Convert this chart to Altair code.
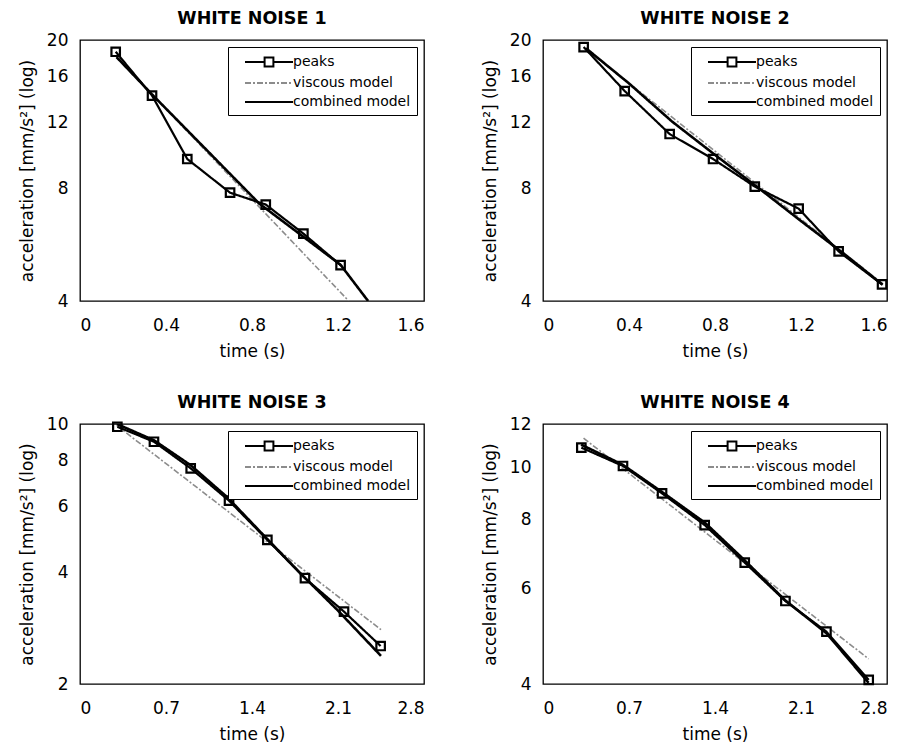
import altair as alt
import pandas as pd

SERIES = ["peaks", "viscous model", "combined model"]

# ---- WHITE NOISE 1 ----
wn1_peaks_t = [0.166, 0.335, 0.499, 0.698, 0.864, 1.039, 1.212]
wn1_peaks_a = [18.6, 14.2, 9.6, 7.8, 7.25, 6.06, 4.99]
wn1_visc_t = [0.17, 1.25]
wn1_visc_a = [18.0, 4.0]
wn1_comb_t = [0.17, 0.335, 0.833, 1.212, 1.34]
wn1_comb_a = [18.0, 14.3, 7.3, 5.0, 4.0]

# ---- WHITE NOISE 2 ----
wn2_peaks_t = [0.189, 0.380, 0.589, 0.791, 0.985, 1.189, 1.375, 1.577]
wn2_peaks_a = [19.15, 14.6, 11.2, 9.6, 8.1, 7.07, 5.43, 4.43]
wn2_visc_t = [0.20, 1.58]
wn2_visc_a = [18.9, 4.45]
wn2_comb_t = [0.20, 0.40, 0.60, 0.80, 1.00, 1.20, 1.40, 1.58]
wn2_comb_a = [19.0, 15.3, 12.1, 9.85, 8.05, 6.55, 5.35, 4.42]

# ---- WHITE NOISE 3 ----
wn3_peaks_t = [0.304, 0.602, 0.901, 1.213, 1.525, 1.831, 2.149, 2.447]
wn3_peaks_a = [9.83, 8.96, 7.60, 6.22, 4.88, 3.85, 3.13, 2.53]
wn3_visc_t = [0.30, 2.45]
wn3_visc_a = [9.9, 2.8]
wn3_comb_t = [0.30, 0.60, 0.90, 1.20, 1.50, 1.80, 2.10, 2.45]
wn3_comb_a = [10.0, 9.05, 7.75, 6.35, 5.0, 3.95, 3.15, 2.38]

# ---- WHITE NOISE 4 ----
wn4_peaks_t = [0.312, 0.651, 0.969, 1.316, 1.642, 1.973, 2.307, 2.651]
wn4_peaks_a = [10.86, 10.05, 8.95, 7.83, 6.68, 5.68, 4.99, 4.07]
wn4_visc_t = [0.33, 2.65]
wn4_visc_a = [11.3, 4.45]
wn4_comb_t = [0.31, 0.65, 0.97, 1.32, 1.64, 1.97, 2.31, 2.65]
wn4_comb_a = [11.0, 10.1, 9.0, 7.9, 6.75, 5.7, 4.95, 4.02]

x_ticks_a = [0, 0.4, 0.8, 1.2, 1.6]
x_ticks_b = [0, 0.7, 1.4, 2.1, 2.8]
y_ticks_1 = [4, 8, 12, 16, 20]
y_ticks_3 = [2, 4, 6, 8, 10]
y_ticks_4 = [4, 6, 8, 10, 12]

# legend glyphs (unit = half of sqrt(symbolSize) = 8 px)
PEAK_PATH = "M-3,0H-0.55M0.55,0H3M-0.55,-0.55H0.55V0.55H-0.55Z"
LINE_PATH = "M-3,0H3"


def make_df(pt, pa, vt, va, ct, ca):
    rows = []
    for t, a in zip(vt, va):
        rows.append({"t": t, "a": a, "series": "viscous model"})
    for t, a in zip(ct, ca):
        rows.append({"t": t, "a": a, "series": "combined model"})
    for t, a in zip(pt, pa):
        rows.append({"t": t, "a": a, "series": "peaks"})
    return pd.DataFrame(rows)


def panel(title, df, xmax, xticks, ydom, yticks, h):
    x = alt.X("t:Q", scale=alt.Scale(domain=[0, xmax], nice=False),
              axis=alt.Axis(values=xticks, format="~g", title="time (s)"))
    y = alt.Y("a:Q", scale=alt.Scale(type="log", domain=ydom, nice=False),
              axis=alt.Axis(values=yticks, format="~g",
                            title="acceleration [mm/s²] (log)"))
    leg = alt.Legend(title=None)
    color = alt.Color("series:N", legend=leg,
                      scale=alt.Scale(domain=SERIES, range=["black", "#8c8c8c", "black"]))
    dash = alt.StrokeDash("series:N", legend=leg,
                          scale=alt.Scale(domain=SERIES, range=[[1, 0], [6, 2, 2, 2], [1, 0]]))
    shape = alt.Shape("series:N", legend=leg,
                      scale=alt.Scale(domain=SERIES, range=[PEAK_PATH, LINE_PATH, LINE_PATH]))
    base = alt.Chart(df).encode(x=x, y=y)
    visc = base.transform_filter("datum.series == 'viscous model'").mark_line(
        strokeWidth=1.6, clip=True).encode(color=color, strokeDash=dash)
    comb = base.transform_filter("datum.series == 'combined model'").mark_line(
        strokeWidth=2.6, clip=True).encode(color=color, strokeDash=dash)
    pk_line = base.transform_filter("datum.series == 'peaks'").mark_line(
        strokeWidth=2.2, clip=True).encode(color=color, strokeDash=dash)
    pk_pts = base.transform_filter("datum.series == 'peaks'").mark_point(
        shape="square", filled=False, size=72, strokeWidth=2.2, color="black", opacity=1)
    leg_layer = base.transform_filter("datum.t < 0").mark_point(
        filled=False, strokeWidth=2, opacity=1).encode(color=color, strokeDash=dash, shape=shape)
    return alt.layer(visc, comb, pk_line, pk_pts, leg_layer).properties(
        width=344, height=h, title=title)


p1 = panel("WHITE NOISE 1", make_df(wn1_peaks_t, wn1_peaks_a, wn1_visc_t, wn1_visc_a, wn1_comb_t, wn1_comb_a),
           1.6, x_ticks_a, [4, 20], y_ticks_1, 261)
p2 = panel("WHITE NOISE 2", make_df(wn2_peaks_t, wn2_peaks_a, wn2_visc_t, wn2_visc_a, wn2_comb_t, wn2_comb_a),
           1.6, x_ticks_a, [4, 20], y_ticks_1, 261)
p3 = panel("WHITE NOISE 3", make_df(wn3_peaks_t, wn3_peaks_a, wn3_visc_t, wn3_visc_a, wn3_comb_t, wn3_comb_a),
           2.8, x_ticks_b, [2, 10], y_ticks_3, 260)
p4 = panel("WHITE NOISE 4", make_df(wn4_peaks_t, wn4_peaks_a, wn4_visc_t, wn4_visc_a, wn4_comb_t, wn4_comb_a),
           2.8, x_ticks_b, [4, 12], y_ticks_4, 260)

chart = alt.concat(p1, p2, p3, p4, columns=2, spacing={"row": 123, "column": 119},
                   bounds="flush").resolve_scale(
    color="independent", strokeDash="independent", shape="independent"
).resolve_legend(
    color="independent", strokeDash="independent", shape="independent"
).configure(
    font="DejaVu Sans",
    padding={"left": 9, "top": 0, "right": 0, "bottom": 0},
).configure_view(stroke="black", strokeWidth=1.3).configure_axis(
    domain=False, ticks=False, tickSize=0, grid=False, labelFontSize=17, titleFontSize=17,
    titleFontWeight="normal", labelColor="black", titleColor="black",
).configure_axisX(labelPadding=16, titlePadding=10).configure_axisY(
    labelPadding=12, titlePadding=10).configure_title(
    fontSize=17.5, fontWeight="bold", anchor="middle", offset=4, color="black"
).configure_legend(
    orient="top-right", offset=7, strokeColor="black", fillColor="white", padding=6,
    symbolSize=256, symbolStrokeWidth=2, symbolOffset=26, labelFontSize=14,
    labelColor="black", rowPadding=3, labelOffset=15, cornerRadius=0,
)

chart.save("out.html", embed_options={"renderer": "svg", "actions": False})
